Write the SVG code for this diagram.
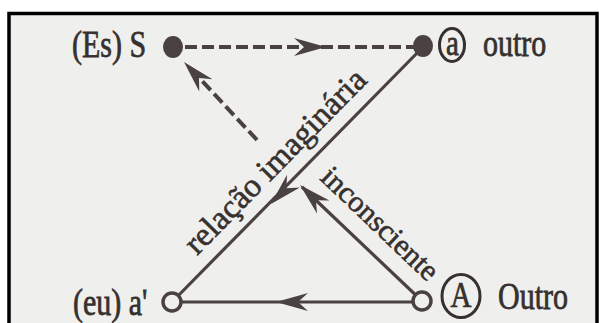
<svg xmlns="http://www.w3.org/2000/svg" xmlns:xlink="http://www.w3.org/1999/xlink" width="601" height="323" viewBox="0 0 601 323">
<style>
.txt{font-family:"Liberation Serif","Times New Roman",serif;fill:#36302e;stroke:#36302e;stroke-width:0.6;}
.ln{stroke:#4a4240;stroke-width:3.2;fill:none;}
.dash{stroke:#4a4240;stroke-width:4;fill:none;stroke-dasharray:12 5;}
.ah{fill:#4a4240;}
.ring{fill:none;stroke:#36302e;stroke-width:3;}
</style>
<defs>
<path id="ah" d="M0,0 L-32,-9 L-22,0 L-32,9 Z"/>
</defs>
<rect x="0" y="0" width="601" height="323" fill="#ffffff"/>
<rect x="9" y="13.5" width="588" height="320" fill="#efefed" stroke="#000" stroke-width="3.5"/>
<g id="connectors">
<line class="dash" x1="185" y1="47" x2="414" y2="47"/>
<use xlink:href="#ah" class="ah" transform="translate(326,47)"/>
<line class="dash" x1="257" y1="140" x2="190" y2="68"/>
<use xlink:href="#ah" class="ah" transform="translate(184,62) rotate(-133)"/>
<line class="ln" x1="423" y1="47" x2="172" y2="302"/>
<use xlink:href="#ah" class="ah" transform="translate(271,204) rotate(134.5)"/>
<line class="ln" x1="422" y1="301" x2="302" y2="187"/>
<use xlink:href="#ah" class="ah" transform="translate(300,185) rotate(-136.4)"/>
<line class="ln" x1="422" y1="302" x2="172" y2="302"/>
<use xlink:href="#ah" class="ah" transform="translate(276,302) rotate(180)"/>
</g>
<g id="node-S">
<ellipse cx="173" cy="47" rx="10" ry="11" fill="#4a4240"/>
<text class="txt" font-size="30" transform="translate(72,57) scale(1,1.28)">(Es) S</text>
</g>
<g id="node-a">
<ellipse cx="423" cy="46" rx="10" ry="11" fill="#4a4240"/>
<ellipse class="ring" cx="452" cy="45" rx="12.5" ry="16.5"/>
<text class="txt" font-size="29" text-anchor="middle" transform="translate(452.5,55) scale(1,1.25)">a</text>
<text class="txt" font-size="30" transform="translate(483,56) scale(1,1.28)">outro</text>
</g>
<g id="node-a-prime">
<circle cx="172" cy="302" r="9" fill="#efefed" stroke="#4a4240" stroke-width="3.5"/>
<text class="txt" font-size="30" transform="translate(73,315) scale(1,1.28)">(eu) a'</text>
</g>
<g id="node-A">
<circle cx="422" cy="301" r="9" fill="#efefed" stroke="#4a4240" stroke-width="3.5"/>
<ellipse class="ring" cx="461" cy="296" rx="19" ry="21.5"/>
<text class="txt" font-size="29" text-anchor="middle" transform="translate(461,307) scale(1,1.2)">A</text>
<text class="txt" font-size="30" transform="translate(498,309) scale(1,1.28)">Outro</text>
</g>
<g id="labels">
<text class="txt" font-size="33" transform="translate(197,256) rotate(-45.5)">relação imaginária</text>
<text class="txt" font-size="30" transform="translate(319,179) rotate(43.6)">inconsciente</text>
</g>
</svg>
